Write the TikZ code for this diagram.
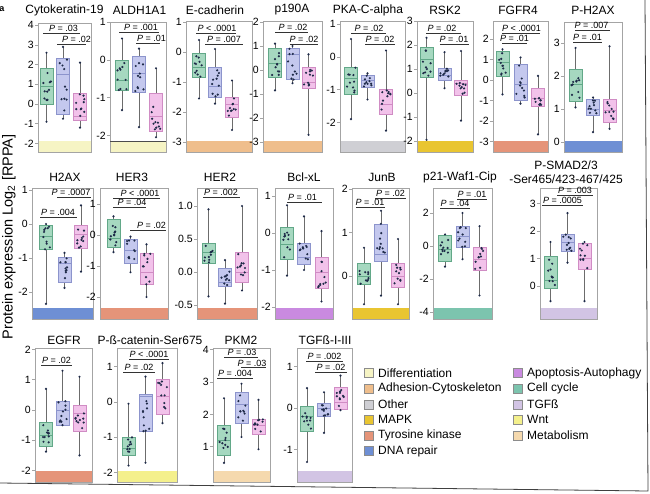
\documentclass[tikz,border=0pt]{standalone}
\usepackage{fontspec}
\setmainfont{Liberation Sans}
\usepackage{tikz}
\usetikzlibrary{calc}
\definecolor{framegrey}{HTML}{A4A4A4}
\definecolor{whiskgrey}{HTML}{6C6C6C}
\definecolor{boxgreen}{HTML}{A6D8C0}
\definecolor{edgegreen}{HTML}{62A888}
\definecolor{boxblue}{HTML}{C4C8EE}
\definecolor{edgeblue}{HTML}{8C94CC}
\definecolor{boxpink}{HTML}{F2C2EA}
\definecolor{edgepink}{HTML}{D08CC4}
\definecolor{dotc}{HTML}{1E2A48}
\definecolor{cDiff}{HTML}{F6F4C4}
\definecolor{cAdh}{HTML}{EFBE8C}
\definecolor{cOther}{HTML}{CFCFD4}
\definecolor{cMAPK}{HTML}{E9C531}
\definecolor{cTyr}{HTML}{E59479}
\definecolor{cDNA}{HTML}{6E8FD4}
\definecolor{cApop}{HTML}{C98AE0}
\definecolor{cCell}{HTML}{7CC4AE}
\definecolor{cTGF}{HTML}{D2C4E4}
\definecolor{cWnt}{HTML}{F4F08C}
\definecolor{cMeta}{HTML}{F5D9AE}
\tikzset{
  frame/.style={draw=framegrey, line width=0.7pt},
  whisk/.style={draw=whiskgrey, line width=0.5pt},
  grn/.style={fill=boxgreen, draw=edgegreen, line width=0.5pt},
  blu/.style={fill=boxblue, draw=edgeblue, line width=0.5pt},
  pnk/.style={fill=boxpink, draw=edgepink, line width=0.5pt},
  ttl/.style={font=\fontsize{12}{13}\selectfont, inner sep=0pt},
  tck/.style={font=\fontsize{10.5}{11}\selectfont, anchor=east, inner sep=1pt},
  pval/.style={font=\fontsize{9}{10}\selectfont, anchor=base, inner sep=0pt},
  pline/.style={draw=black!80, line width=0.5pt},
  lgd/.style={font=\fontsize{12}{13}\selectfont, anchor=west, inner sep=0pt},
  swatch/.style={draw=black!45, line width=0.4pt}
}
\newcommand{\pframe}[5]{%
  \fill[#5] (#1,#4-11) rectangle (#2,#4);
  \draw[frame] (#1,#3) rectangle (#2,#4);}
\newcommand{\pticks}[2]{%
  \foreach \tv in {#2} \draw[frame] (#1,\tv) -- ++(-3,0) node[tck] {\tv};}
\newcommand{\bplot}[7]{%
  \draw[whisk] (#2,#3) -- (#2,#4) (#2,#6) -- (#2,#7);
  \draw[#1] (#2-6.5,#4) rectangle (#2+6.5,#6);
  \draw[#1] (#2-6.5,#5) -- (#2+6.5,#5);
  \foreach \k in {1,...,10}{%
    \pgfmathsetmacro\yy{(#4)+((#6)-(#4))*rnd}%
    \pgfmathsetmacro\xx{#2+4.5*rand}%
    \fill[dotc] (\xx,\yy) circle (1.2pt);}
  \fill[dotc] (#2,#3) circle (1.2pt) (#2,#7) circle (1.2pt);}
\newcommand{\pv}[5]{%
  \draw[pline] (#1,#3) -- (#2,#3);
  \node[pval] at (#4,#3-1.5) {\textit{P} #5};}

\begin{document}
\begin{tikzpicture}[x=1pt,y=-1pt]
  \pgfmathsetseed{7}
  \useasboundingbox[fill=white] (0,0) rectangle (650,493);
  \node[font=\bfseries\fontsize{9}{9}\selectfont] (lbl) at (2,9) {a};
  \node[rotate=90, font=\fontsize{14.5}{15}\selectfont] (ylab) at (9,237) {Protein expression Log\textsubscript{2} [RPPA]};

  \pframe{38}{91}{23}{152}{cDiff}
  \node[ttl] (ck19) at (64.5,10) {Cytokeratin-19};
  \begin{scope}[shift={(0,104)},y=19.7pt]
    \pticks{38}{4,3,2,1,0,-1,-2}
    \bplot{grn}{46.5}{-0.9}{0}{0.9}{1.8}{2.6}
    \bplot{blu}{63}{-0.75}{-0.5}{1.5}{2.3}{2.9}
    \bplot{pnk}{80}{-1.2}{-0.85}{-0.6}{0.55}{2.1}
  \end{scope}
  \pv{43}{80}{33}{63.5}{= .03}
  \pv{57}{86}{44}{76.5}{= .02}

  \pframe{110}{166}{22}{152}{cDiff}
  \draw[black!70, line width=1pt] (110,141) -- (166,141);
  \node[ttl] (aldh) at (139.5,10) {ALDH1A1};
  \begin{scope}[shift={(0,60)},y=37.7pt]
    \pticks{110}{1,0,-1,-2}
    \bplot{grn}{122}{-1.33}{-0.8}{-0.55}{0}{0.57}
    \bplot{blu}{139}{-1.78}{-0.85}{-0.35}{0.1}{0.3}
    \bplot{pnk}{156}{-2.05}{-1.9}{-1.5}{-0.88}{-0.22}
  \end{scope}
  \pv{119}{159}{32}{141}{= .001}
  \pv{136}{160}{43}{151.5}{= .01}

  \pframe{186}{252}{21}{152}{cAdh}
  \node[ttl] (ecad) at (215,10) {E-cadherin};
  \begin{scope}[shift={(0,52)},y=30pt]
    \pticks{186}{1,0,-1,-2,-3}
    \bplot{grn}{199}{-1.55}{-0.85}{-0.5}{-0.05}{0.4}
    \bplot{blu}{215}{-1.72}{-1.5}{-1.15}{-0.5}{0.1}
    \bplot{pnk}{232}{-2.6}{-2.17}{-1.75}{-1.5}{-0.95}
  \end{scope}
  \pv{196}{236}{33}{217}{< .0001}
  \pv{205}{243}{44}{224}{= .007}

  \pframe{263}{322}{21}{152}{cAdh}
  \node[ttl] (p190) at (292,10) {p190A};
  \begin{scope}[shift={(0,70)},y=24pt]
    \pticks{263}{2,1,0,-1,-2,-3}
    \bplot{grn}{275}{-0.85}{-0.3}{0.3}{0.9}{1.1}
    \bplot{blu}{292.5}{-0.55}{-0.4}{0.65}{0.9}{1.0}
    \bplot{pnk}{308.5}{-2.7}{-0.75}{-0.5}{0.1}{0.65}
  \end{scope}
  \pv{275}{308}{32}{293}{= .02}
  \pv{290}{318}{44}{304}{= .02}

  \pframe{340}{405}{21}{152}{cOther}
  \node[ttl] (pka) at (368,10) {PKA-C-alpha};
  \begin{scope}[shift={(0,57)},y=32.7pt]
    \pticks{340}{1,0,-1,-2}
    \bplot{grn}{351}{-1.9}{-1.13}{-0.65}{-0.3}{0.55}
    \bplot{blu}{367.5}{-1.3}{-0.92}{-0.7}{-0.55}{-0.5}
    \bplot{pnk}{386}{-2.25}{-1.75}{-1.45}{-1.0}{0.2}
  \end{scope}
  \pv{351}{386}{33}{369}{= .02}
  \pv{365}{395}{44}{380}{= .02}

  \pframe{417}{473}{21}{152}{cMAPK}
  \node[ttl] (rsk) at (445,10) {RSK2};
  \begin{scope}[shift={(0,93)},y=24pt]
    \pticks{417}{3,2,1,0,-1,-2}
    \bplot{grn}{426.5}{-1.95}{0.65}{1.4}{1.9}{2.3}
    \bplot{blu}{444.5}{0.2}{0.55}{0.75}{1.05}{1.7}
    \bplot{pnk}{461}{-1.15}{-0.1}{0.4}{0.55}{1.75}
  \end{scope}
  \pv{426}{461}{33}{442}{= .02}
  \pv{440}{469}{44}{454}{= .01}

  \pframe{493}{548}{21}{152}{cTyr}
  \node[ttl] (fgfr) at (518,10) {FGFR4};
  \begin{scope}[shift={(0,80)},y=20.5pt]
    \pticks{493}{2,1,0,-1,-2,-3}
    \bplot{grn}{502.5}{-0.7}{0.2}{0.85}{1.4}{1.5}
    \bplot{blu}{520.5}{-1.15}{-1.0}{-0.2}{0.75}{1.1}
    \bplot{pnk}{538}{-2.65}{-1.3}{-0.9}{-0.4}{0.2}
  \end{scope}
  \pv{502}{540}{33}{521.5}{< .0001}
  \pv{502}{527}{43}{514.5}{= .01}

  \pframe{564}{622}{22}{152}{cDNA}
  \node[ttl] (ph2ax) at (593,10) {P-H2AX};
  \begin{scope}[shift={(0,142)},y=33pt]
    \pticks{564}{3,2,1,0}
    \bplot{grn}{575.5}{1.05}{1.25}{1.75}{2.2}{2.85}
    \bplot{blu}{593}{0.3}{0.8}{1.0}{1.3}{1.35}
    \bplot{pnk}{609.5}{0.4}{0.6}{0.95}{1.3}{2.9}
  \end{scope}
  \pv{575}{610}{30}{591.5}{= .007}
  \pv{573}{602}{42}{587.5}{= .01}

  \pframe{32}{93}{188}{319}{cDNA}
  \node[ttl] (h2ax) at (65,177) {H2AX};
  \begin{scope}[shift={(0,224)},y=34pt]
    \pticks{32}{1,0,-1,-2}
    \bplot{grn}{46}{-2.35}{-0.75}{-0.35}{-0.05}{0}
    \bplot{blu}{64.5}{-1.88}{-1.7}{-1.15}{-0.97}{-0.85}
    \bplot{pnk}{81}{-1.4}{-0.7}{-0.3}{-0.05}{0.55}
  \end{scope}
  \pv{57}{91}{197}{71}{= .0007}
  \pv{40}{77}{217}{58}{= .004}

  \pframe{100}{168}{188}{319}{cTyr}
  \node[ttl] (her3) at (132,177) {HER3};
  \begin{scope}[shift={(0,235)},y=31pt]
    \pticks{100}{1,0,-1,-2}
    \bplot{grn}{113.5}{-0.55}{-0.38}{-0.1}{0.5}{0.6}
    \bplot{blu}{130.5}{-1.2}{-0.9}{-0.5}{-0.15}{-0.05}
    \bplot{pnk}{146.5}{-2.0}{-1.6}{-1.2}{-0.6}{-0.3}
  \end{scope}
  \pv{113}{160}{198}{140}{< .0001}
  \pv{113}{146}{207}{132}{= .04}
  \pv{130}{166}{230}{151.5}{= .02}

  \pframe{197}{257}{188}{319}{cTyr}
  \node[ttl] (her2) at (220,177) {HER2};
  \begin{scope}[shift={(0,272)},y=66pt]
    \pticks{197}{1.0,0.5,0.0,-0.5}
    \bplot{grn}{208.5}{-0.37}{0.13}{0.3}{0.43}{0.95}
    \bplot{blu}{225}{-0.48}{-0.22}{-0.15}{0.05}{0.18}
    \bplot{pnk}{242}{-0.28}{-0.15}{0.0}{0.3}{1.0}
  \end{scope}
  \pv{203}{240}{197}{221}{= .002}

  \pframe{275}{333}{188}{319}{cApop}
  \node[ttl] (bcl) at (304,177) {Bcl-xL};
  \begin{scope}[shift={(0,233)},y=37pt]
    \pticks{275}{1,0,-1,-2}
    \bplot{grn}{287}{-1.15}{-0.7}{-0.3}{0.15}{0.75}
    \bplot{blu}{304}{-1.0}{-0.85}{-0.65}{-0.27}{0.45}
    \bplot{pnk}{321.5}{-1.85}{-1.5}{-1.05}{-0.65}{0.05}
  \end{scope}
  \pv{287}{322}{202}{302.5}{= .01}

  \pframe{352}{409}{188}{319}{cMAPK}
  \node[ttl] (junb) at (382,177) {JunB};
  \begin{scope}[shift={(0,276)},y=43.5pt]
    \pticks{352}{2,1,0}
    \bplot{grn}{364}{-0.65}{-0.18}{0.0}{0.3}{0.65}
    \bplot{blu}{381}{-0.45}{0.35}{0.5}{1.2}{1.5}
    \bplot{pnk}{398}{-0.65}{-0.25}{0.0}{0.3}{0.85}
  \end{scope}
  \pv{375}{406}{198}{390.5}{= .02}
  \pv{356}{385}{207}{370}{= .01}

  \pframe{433}{492}{188}{319}{cCell}
  \node[ttl] (p21) at (460,177) {p21-Waf1-Cip};
  \begin{scope}[shift={(0,246)},y=16.5pt]
    \pticks{433}{2,0,-2,-4}
    \bplot{grn}{445}{-1.25}{-0.9}{-0.2}{0.65}{0.7}
    \bplot{blu}{462.5}{-0.8}{-0.05}{0.6}{1.2}{2.0}
    \bplot{pnk}{479.5}{-3.0}{-1.45}{-0.8}{-0.1}{1.2}
  \end{scope}
  \pv{457}{487}{199}{472}{= .01}
  \pv{440}{470}{208}{455}{= .04}

  \pframe{540}{597}{188}{319}{cTGF}
  \node[ttl, align=center] (psmad) at (566,172.5) {P-SMAD2/3\\[1pt]-Ser465/423-467/425};
  \begin{scope}[shift={(0,286)},y=27.5pt]
    \pticks{540}{3,2,1,0}
    \bplot{grn}{550.5}{-0.55}{-0.08}{0.2}{1.1}{1.6}
    \bplot{blu}{567.5}{0.85}{1.25}{1.6}{1.9}{2.65}
    \bplot{pnk}{584.5}{-0.55}{0.6}{1.0}{1.55}{1.6}
  \end{scope}
  \pv{557}{593}{195}{575}{= .003}
  \pv{542}{583}{205}{562.5}{= .0005}

  \pframe{35}{92}{348}{482}{cTyr}
  \node[ttl] (egfr) at (64,340) {EGFR};
  \begin{scope}[shift={(0,410)},y=30.2pt]
    \pticks{35}{2,1,0,-1,-2}
    \bplot{grn}{46}{-1.38}{-1.2}{-0.85}{-0.42}{0.7}
    \bplot{blu}{62.5}{-0.5}{-0.5}{0.0}{0.3}{1.3}
    \bplot{pnk}{79.5}{-1.5}{-0.7}{-0.1}{0.15}{1.1}
  \end{scope}
  \pv{41}{72}{365}{56.5}{= .02}

  \pframe{117}{177}{348}{482}{cWnt}
  \node[ttl] (bcat) at (150,340) {P-ß-catenin-Ser675};
  \begin{scope}[shift={(0,402)},y=35.3pt]
    \pticks{117}{1,0,-1,-2}
    \bplot{grn}{128.5}{-1.8}{-1.5}{-1.3}{-1.0}{-0.05}
    \bplot{blu}{145.5}{-1.72}{-0.83}{0.15}{0.22}{0.72}
    \bplot{pnk}{162.5}{-0.6}{-0.35}{0.15}{0.65}{1.1}
  \end{scope}
  \pv{129}{169}{359}{149}{< .0001}
  \pv{123}{155}{372}{139}{= .02}

  \pframe{213}{270}{348}{482}{cMeta}
  \node[ttl] (pkm) at (241,340) {PKM2};
  \begin{scope}[shift={(0,479)},y=32.3pt]
    \pticks{213}{4,3,2,1}
    \bplot{grn}{224}{0.5}{0.75}{1.2}{1.67}{2.5}
    \bplot{blu}{241.5}{1.3}{1.73}{2.3}{2.7}{2.95}
    \bplot{pnk}{258.5}{0.92}{1.4}{1.65}{1.85}{2.45}
  \end{scope}
  \pv{224}{258}{357}{242}{= .03}
  \pv{241}{266}{367.5}{252}{= .03}
  \pv{217}{253}{378}{235}{= .004}

  \pframe{297}{352}{348}{482}{cTGF}
  \node[ttl] (tgfb) at (325,340) {TGFß-I-III};
  \begin{scope}[shift={(0,408)},y=41.5pt]
    \pticks{297}{1,0,-1}
    \bplot{grn}{307}{-1.3}{-0.57}{-0.2}{0.05}{0.48}
    \bplot{blu}{324}{-0.6}{-0.2}{0.0}{0.12}{0.38}
    \bplot{pnk}{340.5}{-0.05}{-0.02}{0.15}{0.5}{0.78}
  \end{scope}
  \pv{306}{343}{361}{324.5}{= .002}
  \pv{315}{347}{372}{331}{= .02}

  \foreach \nm/\cc [count=\i from 0] in {Differentiation/cDiff, Adhesion-Cytoskeleton/cAdh, Other/cOther, MAPK/cMAPK, Tyrosine kinase/cTyr, DNA repair/cDNA} {
    \draw[swatch, fill=\cc] (364,373+15.6*\i-4.5) rectangle ++(9,9);
    \node[lgd] (lgl-\i) at (378,373+15.6*\i) {\nm};
  }
  \foreach \nm/\cc [count=\i from 0] in {Apoptosis-Autophagy/cApop, Cell cycle/cCell, TGFß/cTGF, Wnt/cWnt, Metabolism/cMeta} {
    \draw[swatch, fill=\cc] (513,373+15.6*\i-4.5) rectangle ++(9,9);
    \node[lgd] (lgr-\i) at (527,373+15.6*\i) {\nm};
  }

  \draw[black!75, line width=0.8pt] (645,0) -- (648,491) -- (0,483);
\end{tikzpicture}
\end{document}
